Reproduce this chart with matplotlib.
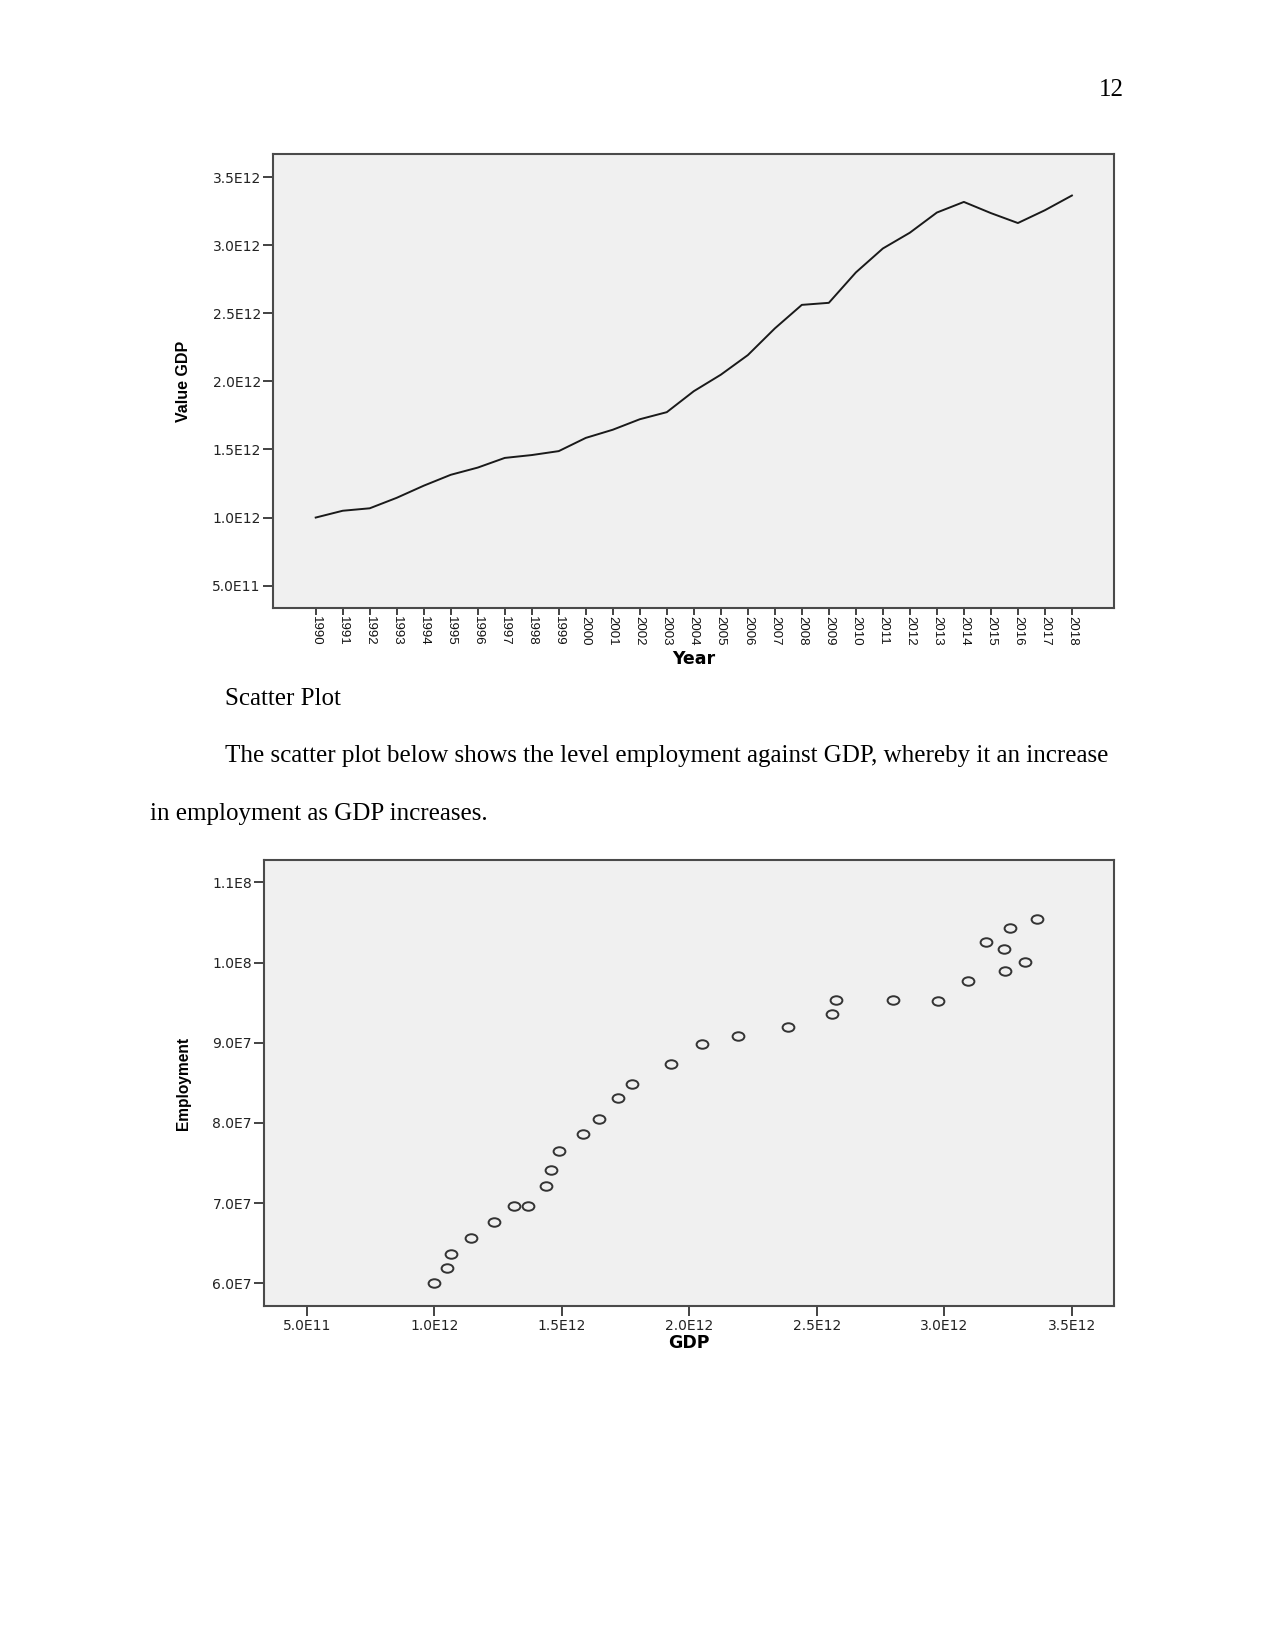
import matplotlib
matplotlib.use("Agg")
import matplotlib.pyplot as plt
from matplotlib.path import Path
from matplotlib.transforms import Affine2D

# data
years = list(range(1990, 2019))
gdp = [1.000, 1.050, 1.068, 1.145, 1.234, 1.314, 1.367, 1.438, 1.459, 1.488,
       1.585, 1.645, 1.722, 1.774, 1.928, 2.049, 2.193, 2.389, 2.562, 2.577,
       2.800, 2.976, 3.092, 3.240, 3.318, 3.236, 3.163, 3.257, 3.365]
gdp = [g * 1e12 for g in gdp]
employment = [6.00, 6.19, 6.37, 6.56, 6.76, 6.96, 6.97, 7.21, 7.41, 7.65,
              7.86, 8.05, 8.31, 8.48, 8.73, 8.98, 9.09, 9.20, 9.36, 9.54,
              9.54, 9.52, 9.77, 9.90, 10.005, 10.17, 10.26, 10.43, 10.54]
employment = [e * 1e7 for e in employment]

gdp_ticks = [5e11, 1e12, 1.5e12, 2e12, 2.5e12, 3e12, 3.5e12]
gdp_labels = ["5.0E11", "1.0E12", "1.5E12", "2.0E12", "2.5E12", "3.0E12", "3.5E12"]
emp_ticks = [6e7, 7e7, 8e7, 9e7, 1e8, 1.1e8]
emp_labels = ["6.0E7", "7.0E7", "8.0E7", "9.0E7", "1.0E8", "1.1E8"]

W, H = 1275, 1651
fig = plt.figure(figsize=(W / 100, H / 100), dpi=100)
fig.patch.set_facecolor("white")


def px_axes(l, t, r, b):
    return fig.add_axes([l / W, 1 - b / H, (r - l) / W, (b - t) / H])


def style(ax):
    ax.set_facecolor("#f0f0f0")
    for s in ax.spines.values():
        s.set_color("#4a4a4a")
        s.set_linewidth(1.5)
    ax.tick_params(direction="out", color="#222222", width=1.2)


# page text
serif = "Liberation Serif"
fig.text(1124 / W, 1 - 90 / H, "12", family=serif, fontsize=18, ha="right", va="center")
fig.text(225 / W, 1 - 699 / H, "Scatter Plot", family=serif, fontsize=18, va="center")
fig.text(225 / W, 1 - 756 / H,
         "The scatter plot below shows the level employment against GDP, whereby it an increase",
         family=serif, fontsize=18, va="center")
fig.text(150 / W, 1 - 814 / H, "in employment as GDP increases.",
         family=serif, fontsize=18, va="center")

# line chart
ax1 = px_axes(273.3, 154, 1114.3, 607.7)
style(ax1)
ax1.plot(years, gdp, color="#1a1a1a", lw=1.4)
ax1.set_xlim(1988.43, 2019.57)
ax1.set_ylim(3.38e11, 3.67e12)
ax1.set_yticks(gdp_ticks)
ax1.set_yticklabels(gdp_labels, family="DejaVu Sans", fontsize=10, color="#222222")
ax1.set_xticks(years)
ax1.set_xticklabels([str(y) for y in years], rotation=270, family="Liberation Sans",
                    fontsize=9.5, color="#111111")
ax1.tick_params(axis="y", length=7, pad=2)
ax1.tick_params(axis="x", length=5, pad=1)
fig.text(183 / W, 1 - 381 / H, "Value GDP", family="Liberation Sans", weight="bold",
         fontsize=11.5, rotation=90, ha="center", va="center")
fig.text(694 / W, 1 - 659 / H, "Year", family="DejaVu Sans", weight="bold",
         fontsize=12.5, ha="center", va="center")

# scatter chart
ellipse = Path.unit_circle().transformed(Affine2D().scale(1.0, 0.72))
ax2 = px_axes(264.3, 860, 1114.3, 1306)
style(ax2)
ax2.plot(gdp, employment, ls="none", marker=ellipse, markersize=8.5,
         markerfacecolor="none", markeredgecolor="#333333", markeredgewidth=1.4)
ax2.set_xlim(3.34e11, 3.667e12)
ax2.set_ylim(5.717e7, 1.128e8)
ax2.set_xticks(gdp_ticks)
ax2.set_xticklabels(gdp_labels, family="DejaVu Sans", fontsize=10, color="#222222")
ax2.set_yticks(emp_ticks)
ax2.set_yticklabels(emp_labels, family="DejaVu Sans", fontsize=10, color="#222222")
ax2.tick_params(axis="both", length=7, pad=2)
fig.text(183 / W, 1 - 1083 / H, "Employment", family="Liberation Sans", weight="bold",
         fontsize=11.2, rotation=90, ha="center", va="center")
fig.text(689 / W, 1 - 1343 / H, "GDP", family="DejaVu Sans", weight="bold",
         fontsize=12.5, ha="center", va="center")

fig.savefig("out.png", dpi=100)
